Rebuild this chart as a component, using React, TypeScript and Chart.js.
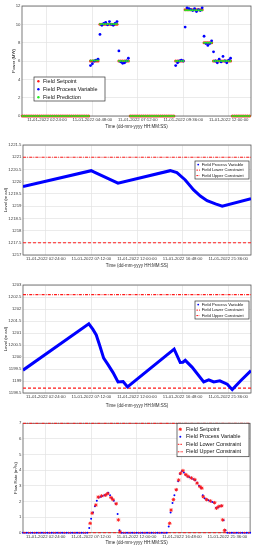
import React, { useEffect, useRef } from "react";
import { Chart, registerables } from "chart.js";
Chart.register(...registerables);

const FONT = "'Liberation Sans', Arial, sans-serif";

// ---------- Panel 1: power ----------
const powerStartHour = 1.1;
const powerStepHours = 0.1;
const powerSetpoint = [
  0, 0, 0, 0, 0, 0, 0, 0, 0, 0,
  0, 0, 0, 0, 0, 0, 0, 0, 0, 0,
  0, 0, 0, 0, 0, 0, 0, 0, 0, 0,
  0, 0, 0, 0, 0, 0, 6, 6, 6, 6,
  6, 10, 10, 10, 10, 10, 10, 10, 10, 10,
  10, 6, 6, 6, 6, 6, 6, 0, 0, 0,
  0, 0, 0, 0, 0, 0, 0, 0, 0, 0,
  0, 0, 0, 0, 0, 0, 0, 0, 0, 0,
  0, 6, 6, 6, 6, 6, 11.6, 11.6, 11.6, 11.6,
  11.6, 11.6, 11.6, 11.6, 11.6, 11.6, 8, 8, 8, 8,
  8, 6, 6, 6, 6, 6, 6, 6, 6, 6,
  6, 0, 0, 0, 0, 0, 0, 0, 0, 0,
  0,
];
const powerPV = [
  null, null, null, null, null, null, null, null, null, null,
  null, null, null, null, null, null, null, null, null, null,
  null, null, null, null, null, null, null, null, null, null,
  null, null, null, null, null, null, 5.5, 5.7, 6.0, 6.1,
  6.2, 8.9, 9.9, 10.1, 10.2, 9.95, 10.3, 10.0, 9.9, 10.1,
  10.3, 7.1, 5.9, 5.75, 5.8, 6.0, 6.3, null, null, null,
  null, null, null, null, null, null, null, null, null, null,
  null, null, null, null, null, null, null, null, null, null,
  null, 5.5, 5.8, 6.0, 6.1, 6.0, 9.7, 11.8, 11.7, 11.6,
  11.5, 11.7, 11.4, 11.6, 11.5, 11.8, 8.7, 7.9, 7.7, 7.9,
  8.2, 7.0, 6.0, 5.8, 6.2, 5.9, 6.5, 6.0, 5.8, 6.1,
  6.3, null, null, null, null, null, null, null, null, null,
  null,
];
const powerPrediction = [
  0, 0, 0, 0, 0, 0, 0, 0, 0, 0,
  0, 0, 0, 0, 0, 0, 0, 0, 0, 0,
  0, 0, 0, 0, 0, 0, 0, 0, 0, 0,
  0, 0, 0, 0, 0, 0, 6.05, 6.05, 6.05, 6.05,
  6.05, 10.05, 10.05, 10.05, 10.05, 10.05, 10.05, 10.05, 10.05, 10.05,
  10.05, 6.0, 6.0, 6.0, 6.0, 6.0, 6.0, 0, 0, 0,
  0, 0, 0, 0, 0, 0, 0, 0, 0, 0,
  0, 0, 0, 0, 0, 0, 0, 0, 0, 0,
  0, 6.0, 6.0, 6.0, 6.0, 6.0, 11.55, 11.55, 11.55, 11.55,
  11.55, 11.55, 11.55, 11.55, 11.55, 11.55, 8.0, 8.0, 8.0, 8.0,
  8.0, 6.0, 6.0, 6.0, 6.0, 6.0, 6.0, 6.0, 6.0, 6.0,
  6.0, 0, 0, 0, 0, 0, 0, 0, 0, 0,
  0,
];
const powerTickHours = [2.4, 4.8, 7.2, 9.6, 12.0];
const powerTickLabels = [
  "11-01-2022 02:24:00",
  "11-01-2022 04:48:00",
  "11-01-2022 07:12:00",
  "11-01-2022 09:36:00",
  "11-01-2022 12:00:00",
];

// ---------- shared day axis ----------
const dayTickHours = [2.4, 7.2, 12.0, 16.8, 21.6];
const dayTickLabels = [
  "11-01-2022 02:24:00",
  "11-01-2022 07:12:00",
  "11-01-2022 12:00:00",
  "11-01-2022 16:48:00",
  "11-01-2022 21:36:00",
];

// ---------- Panel 2: level A ----------
const levelAHours = [0, 7.18, 7.5, 10.0, 15.5, 16.2, 17.08, 17.96, 18.67, 19.38, 20.26, 20.97, 24];
const levelAValues = [1219.8, 1220.45, 1220.39, 1219.94, 1220.45, 1220.37, 1220.07, 1219.66, 1219.41, 1219.22, 1219.09, 1219.0, 1219.3];
const levelALower = 1217.5;
const levelAUpper = 1221;

// ---------- Panel 3: level B ----------
const levelBHours = [0, 6.93, 7.36, 7.71, 8.06, 8.49, 8.95, 9.48, 10.0, 10.54, 11.0, 15.91, 16.55, 16.83, 17.08, 17.79, 19.02, 19.55, 20.08, 20.72, 21.5, 22.03, 22.91, 24];
const levelBValues = [1199.45, 1201.38, 1201.15, 1200.92, 1200.5, 1199.95, 1199.68, 1199.35, 1198.96, 1198.98, 1198.75, 1200.33, 1199.77, 1199.78, 1199.86, 1199.58, 1198.96, 1199.05, 1198.96, 1199.01, 1198.87, 1198.64, 1199.01, 1199.43];
const levelBLower = 1198.7;
const levelBUpper = 1202.6;

// ---------- Panel 4: flow ----------
const flowStartHour = 0;
const flowStepHours = 0.2;
const flowPV = [
  0, 0, 0, 0, 0, 0, 0, 0, 0, 0,
  0, 0, 0, 0, 0, 0, 0, 0, 0, 0,
  0, 0, 0, 0, 0, 0, 0, 0, 0, 0,
  0, 0, 0, 0, 0, 0.3, 0.9, 1.3, 1.7, 2.05,
  2.25, 2.3, 2.35, 2.4, 2.45, 2.55, 2.4, 2.2, 2.05, 1.85,
  1.2, 0.15, 0, 0, 0, 0, 0, 0, 0, 0,
  0, 0, 0, 0, 0, 0, 0, 0, 0, 0,
  0, 0, 0, 0, 0, 0, 0, 0.4, 1.3, 1.9,
  2.4, 2.75, 3.3, 3.75, 3.95, 3.85, 3.7, 3.6, 3.55, 3.48,
  3.42, 3.35, 3.2, 3.0, 2.88, 2.4, 2.2, 2.12, 2.08, 2.02,
  1.97, 1.92, 1.6, 1.62, 1.7, 1.72, 0.8, 0.15, 0, 0,
  0, 0, 0, 0, 0, 0, 0, 0, 0, 0,
  0,
];
const flowSetpointHours = [
  7.1, 7.3, 7.7, 7.95, 8.3, 8.7, 8.95, 9.3, 9.5, 9.85, 10.08, 10.25,
  15.5, 15.65, 15.9, 16.2, 16.45, 16.65, 16.9, 17.2, 17.45, 17.8, 18.15, 18.4,
  18.7, 18.9, 19.05, 19.4, 19.8, 20.25, 20.45, 20.7, 21.0, 21.1, 21.3,
];
const flowSetpointValues = [
  0.6, 1.25, 1.77, 2.28, 2.35, 2.4, 2.5, 2.25, 2.12, 1.85, 0.82, 0.05,
  0.6, 1.45, 2.12, 2.75, 3.37, 3.8, 3.97, 3.72, 3.6, 3.5, 3.4, 3.17,
  2.95, 2.85, 2.3, 2.12, 2.03, 1.92, 1.57, 1.68, 1.72, 0.82, 0.15,
];
const flowLower = 0;
const flowUpper = 7;

// ---------- helpers ----------
const RED = "#ff1a1a";
const BLUE = "#0000ff";
const GREEN = "#22ee22";

const stepped = (start: number, step: number, vals: (number | null)[]) =>
  vals.map((v, i) => ({ x: start + step * i, y: v }));
const paired = (xs: number[], ys: number[]) => xs.map((x, i) => ({ x, y: ys[i] }));
const hline = (x0: number, x1: number, v: number) => [{ x: x0, y: v }, { x: x1, y: v }];

const framePlugin = {
  id: "frame",
  beforeDatasetsDraw(chart: any) {
    const { ctx, chartArea: a } = chart;
    ctx.save();
    ctx.strokeStyle = "#5a5a5a";
    ctx.lineWidth = 0.8;
    ctx.strokeRect(a.left, a.top, a.right - a.left, a.bottom - a.top);
    ctx.restore();
  },
};

const boxLegendPlugin = {
  id: "boxLegend",
  afterDraw(chart: any, _args: any, opts: any) {
    if (!opts || !opts.items) return;
    const { ctx } = chart;
    const { x, y, w, h, rowStart, rowGap, markerX, textX, fontSize, lineLen } = opts;
    ctx.save();
    ctx.fillStyle = "#ffffff";
    ctx.fillRect(x, y, w, h);
    ctx.strokeStyle = "#333333";
    ctx.lineWidth = 0.7;
    ctx.strokeRect(x, y, w, h);
    opts.items.forEach((it: any, i: number) => {
      const ds = chart.data.datasets[it.index];
      const color = ds.borderColor || ds.backgroundColor;
      const cy = y + rowStart + i * rowGap;
      const mx = x + markerX;
      ctx.strokeStyle = color;
      ctx.fillStyle = color;
      if (it.kind === "dot") {
        ctx.beginPath();
        ctx.arc(mx, cy, it.size || 1.2, 0, Math.PI * 2);
        ctx.fill();
      } else if (it.kind === "star") {
        const r = it.size || 1.6;
        ctx.lineWidth = 0.9;
        ctx.beginPath();
        for (let k = 0; k < 4; k++) {
          const ang = (k * Math.PI) / 4;
          ctx.moveTo(mx - r * Math.cos(ang), cy - r * Math.sin(ang));
          ctx.lineTo(mx + r * Math.cos(ang), cy + r * Math.sin(ang));
        }
        ctx.stroke();
      } else {
        ctx.lineWidth = 1;
        ctx.setLineDash(it.kind === "dash" ? [1.6, 1] : [1.6, 0.7, 0.5, 0.7]);
        ctx.beginPath();
        ctx.moveTo(mx - lineLen / 2, cy);
        ctx.lineTo(mx + lineLen / 2, cy);
        ctx.stroke();
        ctx.setLineDash([]);
      }
      ctx.fillStyle = "#111111";
      ctx.font = `${fontSize}px ${FONT}`;
      ctx.textBaseline = "middle";
      ctx.textAlign = "left";
      ctx.fillText(ds.label, x + textX, cy);
    });
    ctx.restore();
  },
};

type Spec = {
  top: number;
  chartTop: number;
  chartBottom: number;
  canvasBottom: number;
  chartLeft: number;
  chartRight: number;
  xMin: number;
  xMax: number;
  xTicks: number[];
  xLabels: string[];
  yMin: number;
  yMax: number;
  yStep: number;
  yTitle: string;
  yTitlePad: number;
  datasets: any[];
  legend: any;
};

function buildConfig(s: Spec): any {
  return {
    type: "line",
    data: { datasets: s.datasets },
    plugins: [framePlugin, boxLegendPlugin],
    options: {
      animation: false,
      responsive: false,
      maintainAspectRatio: false,
      devicePixelRatio: 1,
      events: [],
      layout: { padding: { top: s.chartTop - s.top, right: 255 - s.chartRight, left: 0, bottom: 0 } },
      plugins: {
        legend: { display: false },
        tooltip: { enabled: false },
        boxLegend: s.legend,
      },
      scales: {
        x: {
          type: "linear",
          min: s.xMin,
          max: s.xMax,
          afterBuildTicks: (scale: any) => {
            scale.ticks = s.xTicks.map((v) => ({ value: v }));
          },
          afterFit: (scale: any) => {
            scale.height = s.canvasBottom - s.chartBottom;
          },
          ticks: {
            autoSkip: false,
            maxRotation: 0,
            minRotation: 0,
            padding: 1.2,
            color: "#3a3a3a",
            font: { family: FONT, size: 4.3 },
            callback: (_v: any, i: number) => s.xLabels[i],
          },
          grid: { color: "#e2e2e2", lineWidth: 0.7, drawTicks: false },
          border: { display: false },
          title: {
            display: true,
            text: "Time (dd-mm-yyyy HH:MM:SS)",
            color: "#2a2a2a",
            font: { family: FONT, size: 4.5 },
            padding: { top: 0, bottom: 1 },
          },
        },
        y: {
          type: "linear",
          min: s.yMin,
          max: s.yMax,
          afterFit: (scale: any) => {
            scale.width = s.chartLeft;
          },
          ticks: {
            stepSize: s.yStep,
            padding: 1.5,
            color: "#3a3a3a",
            font: { family: FONT, size: 4.3 },
            callback: (v: any) => String(Math.round(v * 100) / 100),
          },
          grid: { color: "#e2e2e2", lineWidth: 0.7, drawTicks: false },
          border: { display: false },
          title: {
            display: true,
            text: s.yTitle,
            color: "#2a2a2a",
            font: { family: FONT, size: 4.3 },
            padding: { top: s.yTitlePad, bottom: 0 },
          },
        },
      },
    },
  };
}

const markerDs = (label: string, data: any[], color: string, radius: number, order: number, style = "circle") => ({
  label,
  data,
  showLine: false,
  borderColor: color,
  backgroundColor: color,
  pointRadius: radius,
  pointBorderWidth: style === "star" ? 0.9 : 0,
  pointStyle: style,
  order,
  clip: 4,
});
const constraintDs = (label: string, data: any[], dash: number[], width = 1) => ({
  label,
  data,
  borderColor: RED,
  backgroundColor: RED,
  borderWidth: width,
  borderDash: dash,
  pointRadius: 0,
  clip: 2,
});
const levelDs = (data: any[]) => ({
  label: "Field Process Variable",
  data,
  borderColor: BLUE,
  backgroundColor: BLUE,
  borderWidth: 3,
  pointRadius: 0,
  tension: 0,
});

const specs: Spec[] = [
  {
    top: 0, chartTop: 6, chartBottom: 116, canvasBottom: 130, chartLeft: 22, chartRight: 251,
    xMin: 1.08, xMax: 13.18, xTicks: powerTickHours, xLabels: powerTickLabels,
    yMin: 0, yMax: 12, yStep: 2, yTitle: "Power (MW)", yTitlePad: 11.3,
    datasets: [
      markerDs("Field Setpoint", stepped(powerStartHour, powerStepHours, powerSetpoint), RED, 1.5, 3),
      markerDs("Field Process Variable", stepped(powerStartHour, powerStepHours, powerPV), BLUE, 1.4, 2),
      markerDs("Field Prediction", stepped(powerStartHour, powerStepHours, powerPrediction), GREEN, 1.0, 1),
    ],
    legend: {
      x: 34, y: 77, w: 71, h: 24, rowStart: 4.2, rowGap: 8, markerX: 4.4, textX: 9, fontSize: 5.5, lineLen: 5,
      items: [{ index: 0, kind: "dot", size: 1.2 }, { index: 1, kind: "dot", size: 1.2 }, { index: 2, kind: "dot", size: 1.2 }],
    },
  },
  {
    top: 135, chartTop: 145, chartBottom: 255, canvasBottom: 269, chartLeft: 23, chartRight: 251,
    xMin: 0, xMax: 24, xTicks: dayTickHours, xLabels: dayTickLabels,
    yMin: 1217, yMax: 1221.5, yStep: 0.5, yTitle: "Level (m asl)", yTitlePad: 3.3,
    datasets: [
      levelDs(paired(levelAHours, levelAValues)),
      constraintDs("Field Lower Constraint", hline(0, 24, levelALower), [3, 2]),
      constraintDs("Field Upper Constraint", hline(0, 24, levelAUpper), [3, 1.2, 0.8, 1.2]),
    ],
    legend: {
      x: 195, y: 26, w: 54, h: 18, rowStart: 3.6, rowGap: 5.5, markerX: 3.2, textX: 6.7, fontSize: 4.2, lineLen: 3.6,
      items: [{ index: 0, kind: "dot", size: 0.9 }, { index: 1, kind: "dash" }, { index: 2, kind: "dashdot" }],
    },
  },
  {
    top: 275, chartTop: 285, chartBottom: 393, canvasBottom: 409, chartLeft: 23, chartRight: 251,
    xMin: 0, xMax: 24, xTicks: dayTickHours, xLabels: dayTickLabels,
    yMin: 1198.5, yMax: 1203, yStep: 0.5, yTitle: "Level (m asl)", yTitlePad: 3.3,
    datasets: [
      levelDs(paired(levelBHours, levelBValues)),
      constraintDs("Field Lower Constraint", hline(0, 24, levelBLower), [3, 2], 1.2),
      constraintDs("Field Upper Constraint", hline(0, 24, levelBUpper), [3, 1.2, 0.8, 1.2], 1.4),
    ],
    legend: {
      x: 195, y: 26, w: 54, h: 18, rowStart: 3.6, rowGap: 5.5, markerX: 3.2, textX: 6.7, fontSize: 4.2, lineLen: 3.6,
      items: [{ index: 0, kind: "dot", size: 0.9 }, { index: 1, kind: "dash" }, { index: 2, kind: "dashdot" }],
    },
  },
  {
    top: 413, chartTop: 423.3, chartBottom: 532.7, canvasBottom: 546, chartLeft: 23, chartRight: 251,
    xMin: 0, xMax: 24, xTicks: dayTickHours, xLabels: dayTickLabels,
    yMin: 0, yMax: 7, yStep: 1, yTitle: "Flow Rate (m³/s)", yTitlePad: 13,
    datasets: [
      markerDs("Field Setpoint", paired(flowSetpointHours, flowSetpointValues), RED, 1.8, 0, "star"),
      markerDs("Field Process Variable", stepped(flowStartHour, flowStepHours, flowPV), BLUE, 1.0, 1),
      constraintDs("Field Lower Constraint", hline(0, 24, flowLower), [3, 2]),
      constraintDs("Field Upper Constraint", hline(0, 24, flowUpper), [3, 1.2, 0.8, 1.2]),
    ],
    legend: {
      x: 177, y: 10.3, w: 72, h: 33.4, rowStart: 6, rowGap: 7.5, markerX: 3.3, textX: 9, fontSize: 5.5, lineLen: 5,
      items: [{ index: 0, kind: "star", size: 1.6 }, { index: 1, kind: "dot", size: 1.0 }, { index: 2, kind: "dash" }, { index: 3, kind: "dashdot" }],
    },
  },
];

function Panel({ spec }: { spec: Spec }) {
  const ref = useRef<HTMLCanvasElement>(null);
  const h = spec.canvasBottom - spec.top;
  useEffect(() => {
    const chart = new Chart(ref.current as HTMLCanvasElement, buildConfig(spec));
    return () => chart.destroy();
  }, [spec]);
  return (
    <canvas
      ref={ref}
      width={255}
      height={h}
      style={{ position: "absolute", left: 0, top: spec.top, width: 255, height: h, display: "block" }}
    />
  );
}

export default function App() {
  return (
    <div style={{ position: "absolute", left: 0, top: 0, width: 255, height: 550, background: "#ffffff", overflow: "hidden" }}>
      {specs.map((s, i) => (
        <Panel key={i} spec={s} />
      ))}
    </div>
  );
}
